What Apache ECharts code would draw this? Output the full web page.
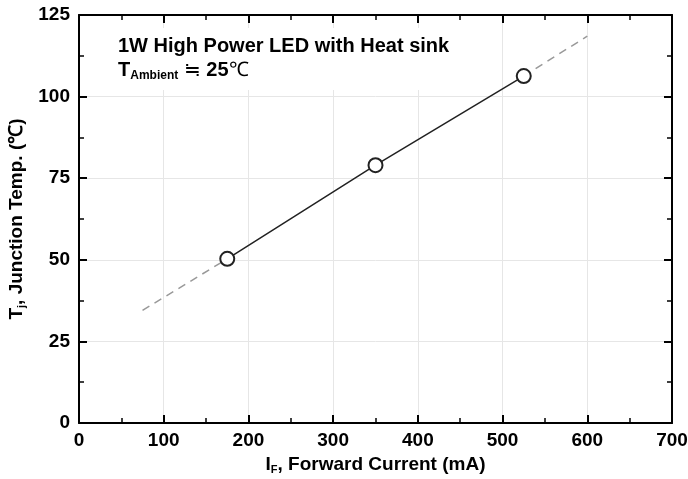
<!DOCTYPE html>
<html>
<head>
<meta charset="utf-8">
<script src="https://cdn.jsdelivr.net/npm/echarts@6/dist/echarts.min.js"></script>
<style>
  html, body { margin: 0; padding: 0; background: #fff; }
  #chart { width: 688px; height: 479px; }
</style>
</head>
<body>
<div id="chart"></div>
<script>
// measured points (mA, degC)
const currents = [175, 350, 525];
const junctionTemps = [50.3, 79.0, 106.3];
// dashed extrapolation ends of the fit line
const extLow = [[75, 34.5], [175, 50.3]];
const extHigh = [[525, 106.3], [600, 118.5]];
const xTicks = [0, 700, 100];
const yTicks = [0, 125, 25];

const font = 'Liberation Sans, Arial, sans-serif';
const chart = echarts.init(document.getElementById('chart'));

const baseAxis = {
  axisLine: { show: true, onZero: false, lineStyle: { color: '#000', width: 2 } },
  axisTick: { show: true, inside: true, length: 8, lineStyle: { color: '#000', width: 2 } },
  minorTick: { show: true, splitNumber: 2, length: 5, lineStyle: { color: '#000', width: 1.5 } }
};

const nameRich = {
  b: { fontFamily: font, fontWeight: 'bold', fontSize: 19, color: '#000' },
  s: { fontFamily: font, fontWeight: 'bold', fontSize: 11, color: '#000', verticalAlign: 'bottom', padding: [9, 0, 0, 0] }
};

chart.setOption({
  animation: false,
  grid: { left: 79, right: 16, top: 15, bottom: 56, outerBoundsMode: 'none', containLabel: false },
  xAxis: [
    Object.assign({}, baseAxis, {
      type: 'value', min: xTicks[0], max: xTicks[1], interval: xTicks[2], position: 'bottom',
      axisLabel: { color: '#000', fontFamily: font, fontWeight: 'bold', fontSize: 19, margin: 8 },
      splitLine: { show: true, lineStyle: { color: '#e6e6e6', width: 1 } },
      name: '{b|I}{s|F}{b|, Forward Current (mA)}',
      nameLocation: 'middle', nameGap: 32,
      nameTextStyle: { rich: nameRich }
    }),
    Object.assign({}, baseAxis, {
      type: 'value', min: xTicks[0], max: xTicks[1], interval: xTicks[2], position: 'top',
      axisLabel: { show: false }, splitLine: { show: false }
    })
  ],
  yAxis: [
    Object.assign({}, baseAxis, {
      type: 'value', min: yTicks[0], max: yTicks[1], interval: yTicks[2], position: 'left',
      axisLabel: { color: '#000', fontFamily: font, fontWeight: 'bold', fontSize: 19, margin: 9 },
      splitLine: { show: true, lineStyle: { color: '#e6e6e6', width: 1 } },
      name: '{b|T}{s|j}{b|, Junction Temp. (℃)}',
      nameLocation: 'middle', nameGap: 52, nameRotate: 90,
      nameTextStyle: { rich: nameRich }
    }),
    Object.assign({}, baseAxis, {
      type: 'value', min: yTicks[0], max: yTicks[1], interval: yTicks[2], position: 'right',
      axisLabel: { show: false }, splitLine: { show: false }
    })
  ],
  graphic: [
    {
      // white panel behind the annotation, hides the grid lines there
      type: 'rect', left: 110, top: 28, z: 10,
      shape: { width: 352, height: 62 },
      style: { fill: '#fff' }
    },
    {
      type: 'text', left: 118, top: 36, z: 11,
      style: { text: '1W High Power LED with Heat sink', fill: '#000', font: 'bold 20px ' + font }
    },
    {
      type: 'text', left: 118, top: 60, z: 11,
      style: {
        text: '{b|T}{s|Ambient}{n| ≒ }{b|25}{n|℃}',
        rich: {
          b: { fontFamily: font, fontWeight: 'bold', fontSize: 20, fill: '#000' },
          n: { fontFamily: font, fontSize: 20, fill: '#000' },
          s: { fontFamily: font, fontWeight: 'bold', fontSize: 12, fill: '#000', verticalAlign: 'bottom', padding: [12, 0, 0, 0] }
        }
      }
    }
  ],
  series: [
    {
      type: 'line', data: extLow, symbol: 'none', z: 2,
      lineStyle: { color: '#999', width: 1.5, type: [8, 6] }
    },
    {
      type: 'line', data: extHigh, symbol: 'none', z: 2,
      lineStyle: { color: '#999', width: 1.5, type: [8, 6] }
    },
    {
      type: 'line', z: 3,
      data: currents.map((c, i) => [c, junctionTemps[i]]),
      symbol: 'circle', symbolSize: 14,
      itemStyle: { color: '#fff', borderColor: '#222', borderWidth: 2 },
      lineStyle: { color: '#222', width: 1.5 }
    }
  ]
});
</script>
</body>
</html>
